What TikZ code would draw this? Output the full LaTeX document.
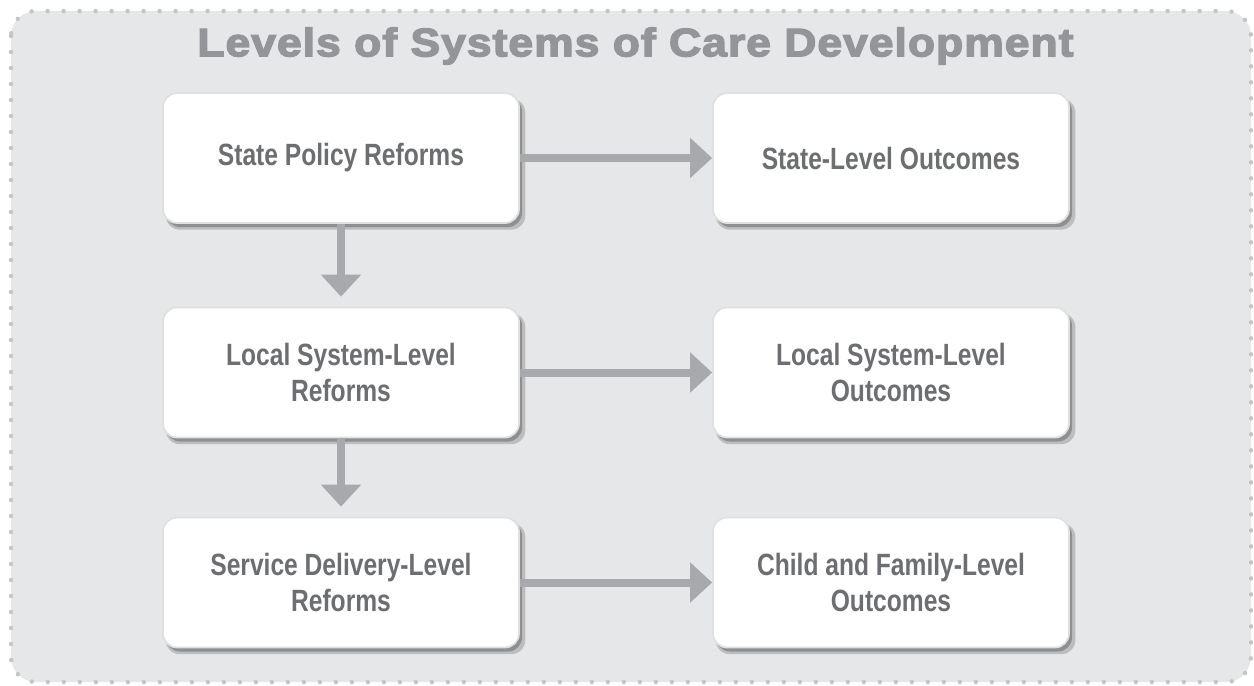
\documentclass[tikz,border=0pt]{standalone}
\usepackage{fontspec}
\setmainfont{Liberation Sans}
\newfontfamily\boxfont[FakeStretch=0.8]{Liberation Sans}
\newfontfamily\titlefont[FakeStretch=1.12, LetterSpace=2.5, BoldFeatures={FakeBold=3.5}]{Liberation Sans}
\usetikzlibrary{arrows.meta, positioning, shadows}
\definecolor{cpanel}{HTML}{E6E7E8}
\definecolor{cdots}{HTML}{C4C5C7}
\definecolor{ctitle}{HTML}{939598}
\definecolor{ctext}{HTML}{6D6E71}
\definecolor{carrow}{HTML}{A7A9AC}
\tikzset{
  every picture/.style={line width=1pt},
  level/.style={draw=black!12, fill=white, rounded corners=8pt, align=center,
    minimum width=7.12cm, minimum height=2.6cm, text=ctext,
    font=\boxfont\bfseries\fontsize{17.5}{21}\selectfont,
    general shadow={shadow xshift=0.09cm, shadow yshift=-0.12cm, opacity=0.18, fill=black, shadow scale=1.01},
    drop shadow={shadow xshift=0.06cm, shadow yshift=-0.08cm, opacity=0.4, fill=black!70}},
  flow/.style={-{Triangle[length=0.44cm, width=0.78cm]}, draw=carrow, line width=0.16cm},
  title/.style={font=\titlefont\bfseries\fontsize{22.6}{24}\selectfont, text=ctitle},
}
\begin{document}
\begin{tikzpicture}
  \useasboundingbox (0,0) rectangle (25.08,-13.7);
  \draw[fill=cpanel, draw=cdots, line width=0.09cm, line cap=round,
    dash pattern=on 0pt off 0.32cm, rounded corners=0.5cm]
    (0.22,-0.22) rectangle (25.02,-13.64);
  \node[title] (head) at (12.71,-0.92) {Levels of Systems of Care Development};

  % reforms
  \node[level] (spr) at (6.82,-3.16) {State Policy Reforms};
  \node[level] (lsr) at (6.82,-7.45) {Local System-Level\\Reforms};
  \node[level] (sdr) at (6.82,-11.65) {Service Delivery-Level\\Reforms};

  % outcomes
  \node[level] (slo) at (17.82,-3.16) {State-Level Outcomes};
  \node[level] (lso) at (17.82,-7.45) {Local System-Level\\Outcomes};
  \node[level] (cfo) at (17.82,-11.65) {Child and Family-Level\\Outcomes};

  \draw[flow] (spr) -- (slo);
  \draw[flow] (lsr) -- (lso);
  \draw[flow] (sdr) -- (cfo);
  \draw[flow, shorten >=0.2cm] (spr) -- (lsr);
  \draw[flow, shorten >=0.2cm] (lsr) -- (sdr);
\end{tikzpicture}
\end{document}
